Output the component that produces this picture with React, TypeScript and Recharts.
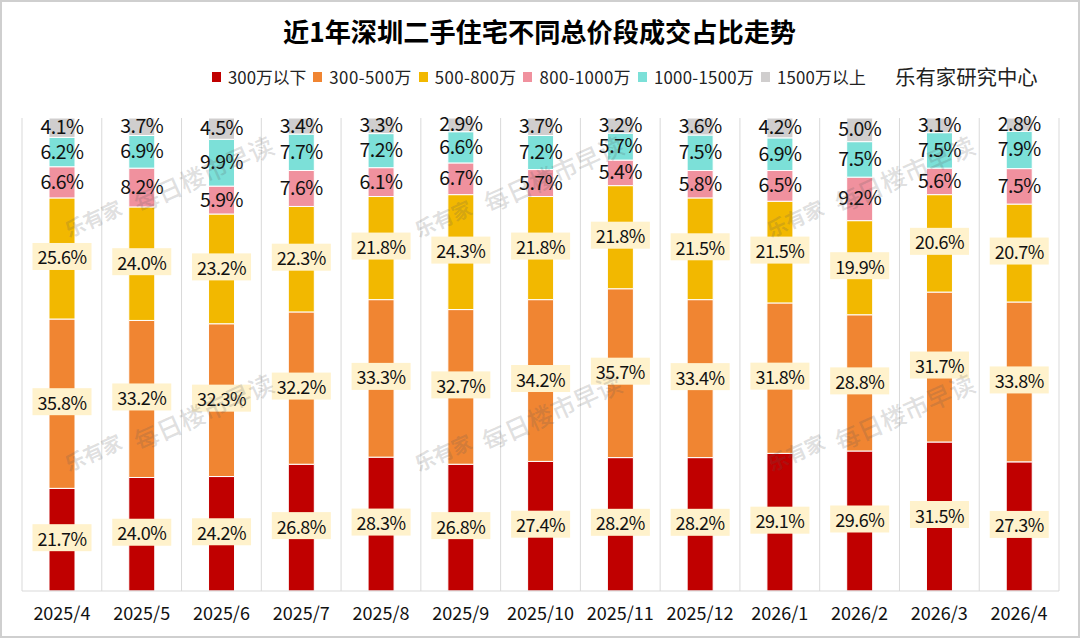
import React from 'react';
import { BarChart, Bar, XAxis, YAxis, CartesianGrid, LabelList } from 'recharts';

const months = ['2025/4','2025/5','2025/6','2025/7','2025/8','2025/9','2025/10','2025/11','2025/12','2026/1','2026/2','2026/3','2026/4'];
const under300 = [21.7,24.0,24.2,26.8,28.3,26.8,27.4,28.2,28.2,29.1,29.6,31.5,27.3];
const r300to500 = [35.8,33.2,32.3,32.2,33.3,32.7,34.2,35.7,33.4,31.8,28.8,31.7,33.8];
const r500to800 = [25.6,24.0,23.2,22.3,21.8,24.3,21.8,21.8,21.5,21.5,19.9,20.6,20.7];
const r800to1000 = [6.6,8.2,5.9,7.6,6.1,6.7,5.7,5.4,5.8,6.5,9.2,5.6,7.5];
const r1000to1500 = [6.2,6.9,9.9,7.7,7.2,6.6,7.2,5.7,7.5,6.9,7.5,7.5,7.9];
const over1500 = [4.1,3.7,4.5,3.4,3.3,2.9,3.7,3.2,3.6,4.2,5.0,3.1,2.8];

const seriesNames = ['300万以下','300-500万','500-800万','800-1000万','1000-1500万','1500万以上'];
const seriesColors = ['#C00000','#F08532','#F2B800','#F0919E','#7CE0D8','#D0CECE'];
const seriesValues = [under300,r300to500,r500to800,r800to1000,r1000to1500,over1500];
const keys = ['a','b','c','d','e','f'];
const boxed = [true,true,true,false,false,false];
const legendSpacing = [0,0.5,0.4,0.4,0.3,0.2];

const data = months.map((m,i)=>{
  const row: any = { month: m };
  keys.forEach((k,j)=>{ row[k]=seriesValues[j][i]; });
  return row;
});

const FONT = '"Noto Sans CJK SC","Noto Sans",sans-serif';

const makeLabel = (withBox: boolean) => (p: any) => {
  const cx = p.x + p.width/2;
  const cy = p.y + p.height/2 - 2;
  const txt = Number(p.value).toFixed(1)+'%';
  return (
    <g>
      {withBox && <rect x={cx-29.5} y={cy-13.5} width={59} height={27} fill="#FFF2CC" />}
      <text x={cx} y={cy} textAnchor="middle" dominantBaseline="central" fontSize={withBox?18:19.5} letterSpacing={-0.5} fontFamily={FONT} fill="#111">{txt}</text>
    </g>
  );
};

const marks = [
  { x: 93, y: 218, t: '乐有家', s: 20 }, { x: 203, y: 173, t: '每日楼市早读', s: 25 },
  { x: 93, y: 452, t: '乐有家', s: 20 }, { x: 203, y: 411, t: '每日楼市早读', s: 25 },
  { x: 443, y: 218, t: '乐有家', s: 20 }, { x: 553, y: 173, t: '每日楼市早读', s: 25 },
  { x: 443, y: 452, t: '乐有家', s: 20 }, { x: 551, y: 411, t: '每日楼市早读', s: 25 },
  { x: 795, y: 218, t: '乐有家', s: 20 }, { x: 904, y: 173, t: '每日楼市早读', s: 25 },
  { x: 796, y: 452, t: '乐有家', s: 20 }, { x: 904, y: 411, t: '每日楼市早读', s: 25 },
];

export default function App() {
  return (
    <div style={{ position:'absolute', left:0, top:0, width:1080, height:638, background:'#fff', overflow:'hidden', fontFamily:FONT }}>
      <BarChart width={1080} height={638} data={data} stackOffset="none" margin={{ top:118, left:22, right:21, bottom:0 }}>
        <CartesianGrid horizontal={false} stroke="#D9D9D9" strokeWidth={1}
          verticalCoordinatesGenerator={({ offset }: any) => months.map((_,i)=>offset.left+i*offset.width/months.length).concat(offset.left+offset.width)} />
        <XAxis dataKey="month" height={47} axisLine={{ stroke:'#D9D9D9' }} tickLine={false} interval={0} tickMargin={10}
          tick={{ fontSize:18, fontFamily:FONT, fill:'#111' }} />
        <YAxis hide domain={[0,100]} type="number" allowDataOverflow />
        {keys.map((k,j)=>(
          <Bar key={k} dataKey={k} stackId="s" name={seriesNames[j]} fill={seriesColors[j]} barSize={26} stroke="#fff" strokeWidth={1} isAnimationActive={false}>
            <LabelList dataKey={k} content={makeLabel(boxed[j])} />
          </Bar>
        ))}
      </BarChart>

      <div style={{ position:'absolute', left:283, top:13, fontSize:26.2, fontWeight:700, color:'#000', lineHeight:'36px', whiteSpace:'nowrap' }}>
        近1年深圳二手住宅不同总价段成交占比走势
      </div>

      <div style={{ position:'absolute', left:212, top:65, height:24, display:'flex', alignItems:'center', fontSize:16.8, color:'#222', whiteSpace:'nowrap' }}>
        {seriesNames.map((n,j)=>(
          <span key={n} style={{ display:'inline-flex', alignItems:'center', marginRight:7, letterSpacing:legendSpacing[j] }}>
            <span style={{ width:9, height:10, background:seriesColors[j], marginRight:7, display:'inline-block' }} />
            {n}
          </span>
        ))}
      </div>
      <div style={{ position:'absolute', left:895, top:62, fontSize:20.4, color:'#222', lineHeight:'28px', whiteSpace:'nowrap' }}>乐有家研究中心</div>

      {marks.map((m,i)=>(
        <div key={i} style={{ position:'absolute', left:m.x, top:m.y, transform:'translate(-50%,-50%) rotate(-24deg)', fontSize:m.s, fontWeight:m.s<24?700:500, color:'rgba(90,90,90,0.2)', whiteSpace:'nowrap' }}>{m.t}</div>
      ))}

      <div style={{ position:'absolute', inset:0, border:'2px solid #CFCFCF', boxSizing:'border-box', pointerEvents:'none' }} />
    </div>
  );
}
